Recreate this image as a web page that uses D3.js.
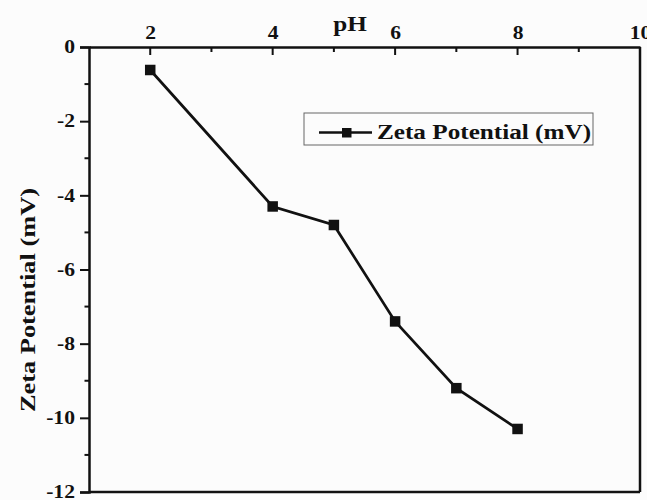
<!DOCTYPE html>
<html>
<head>
<meta charset="utf-8">
<script src="https://cdn.jsdelivr.net/npm/d3@7"></script>
<style>
  html, body { margin: 0; padding: 0; background: #fcfcfc; }
  svg { display: block; }
  text { font-family: "Liberation Serif", "Times New Roman", serif; font-weight: bold; fill: #111; }
</style>
</head>
<body>
<svg id="chart" width="647" height="500"></svg>
<script>
// pH values and measured zeta potential (mV)
const phValues = [2, 4, 5, 6, 7, 8];
const zetaValues = [-0.62, -4.3, -4.8, -7.4, -9.2, -10.3];
const xTickValues = [2, 4, 6, 8, 10];
const yTickValues = [0, -2, -4, -6, -8, -10, -12];
const seriesName = "Zeta Potential (mV)";

const svg = d3.select("#chart");
const plotLeft = 89, plotRight = 640, plotTop = 47, plotBottom = 492;
const stretch = 1.2; // horizontal widening of the bold serif lettering

const x = d3.scaleLinear().domain([1, 10]).range([plotLeft, plotRight]);
const y = d3.scaleLinear().domain([0, -12]).range([plotTop, plotBottom]);
const fmt = d => String(d);

// frame: bottom and right edges
svg.append("line").attr("x1", plotLeft).attr("x2", plotRight).attr("y1", plotBottom).attr("y2", plotBottom)
  .attr("stroke", "#111").attr("stroke-width", 2.5);
svg.append("line").attr("x1", plotRight).attr("x2", plotRight).attr("y1", plotTop).attr("y2", plotBottom)
  .attr("stroke", "#111").attr("stroke-width", 2.5);

// top axis with inward ticks
const xAxis = d3.axisTop(x).tickValues(xTickValues).tickSize(0).tickPadding(8.5).tickFormat(fmt);
const gx = svg.append("g").attr("transform", `translate(0,${plotTop})`).call(xAxis);
gx.select(".domain").attr("stroke", "#111").attr("stroke-width", 2.5);
gx.selectAll("text").style("font-size", "18px").attr("transform", `scale(${stretch},1)`);
const xMinor = d3.range(2, 10, 1);
svg.append("g").selectAll("line").data(xMinor).join("line")
  .attr("x1", d => x(d)).attr("x2", d => x(d))
  .attr("y1", plotTop).attr("y2", d => plotTop + (d % 2 === 0 ? 8 : 5))
  .attr("stroke", "#111").attr("stroke-width", 2);

// left axis with outward ticks
const yAxis = d3.axisLeft(y).tickValues(yTickValues).tickSize(9).tickPadding(2.7).tickFormat(fmt);
const gy = svg.append("g").attr("transform", `translate(${plotLeft},0)`).call(yAxis);
gy.select(".domain").attr("stroke", "#111").attr("stroke-width", 2.5);
gy.selectAll(".tick line").attr("stroke", "#111").attr("stroke-width", 2);
gy.selectAll("text").style("font-size", "18px").attr("transform", `scale(${stretch},1)`);
const yMinor = d3.range(-1, -12, -2);
svg.append("g").selectAll("line").data(yMinor).join("line")
  .attr("x1", plotLeft - 4.5).attr("x2", plotLeft)
  .attr("y1", d => y(d)).attr("y2", d => y(d))
  .attr("stroke", "#111").attr("stroke-width", 2);

// axis titles
svg.append("text").attr("transform", `translate(350,31) scale(${stretch},1)`).attr("text-anchor", "middle")
  .style("font-size", "21px").text("pH");
svg.append("text").attr("transform", `translate(35,300) rotate(-90) scale(${stretch},1)`).attr("text-anchor", "middle")
  .style("font-size", "22px").text("Zeta Potential (mV)");

// series
const data = phValues.map((p, i) => ({ p, z: zetaValues[i] }));
const line = d3.line().x(d => x(d.p)).y(d => y(d.z));
svg.append("path").datum(data).attr("d", line)
  .attr("fill", "none").attr("stroke", "#111").attr("stroke-width", 2.7);
const ms = 10.5;
svg.append("g").selectAll("rect").data(data).join("rect")
  .attr("x", d => x(d.p) - ms / 2).attr("y", d => y(d.z) - ms / 2)
  .attr("width", ms).attr("height", ms).attr("fill", "#111");

// legend
const lg = svg.append("g");
lg.append("rect").attr("x", 304).attr("y", 113).attr("width", 289).attr("height", 32)
  .attr("fill", "#fcfcfc").attr("stroke", "#666").attr("stroke-width", 1);
lg.append("line").attr("x1", 319).attr("x2", 372).attr("y1", 132.5).attr("y2", 132.5)
  .attr("stroke", "#111").attr("stroke-width", 2.7);
lg.append("rect").attr("x", 342).attr("y", 128).attr("width", 9.5).attr("height", 9.5).attr("fill", "#111");
lg.append("text").attr("transform", `translate(377,139) scale(${stretch},1)`)
  .style("font-size", "21px").text(seriesName);
</script>
</body>
</html>
